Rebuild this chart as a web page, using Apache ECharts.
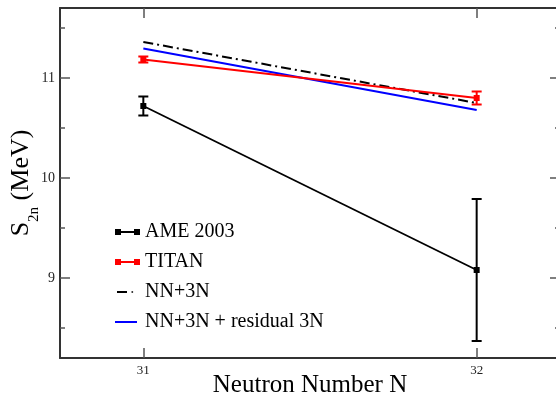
<!DOCTYPE html>
<html>
<head>
<meta charset="utf-8">
<script src="https://cdn.jsdelivr.net/npm/echarts@6/dist/echarts.min.js"></script>
<style>html,body{margin:0;padding:0;background:#fff;}#c{width:556px;height:394px;}</style>
</head>
<body>
<div id="c"></div>
<script>
// ---- data ----
var neutronN = [31, 32];
var ameY = [10.72, 9.08];
var ameErr = [0.095, 0.71];
var titanY = [11.185, 10.80];
var titanErr = [0.03, 0.065];
var nn3nY = [11.36, 10.75];
var residY = [11.295, 10.68];
var xTicks = [31, 32];
var yTicks = [9, 10, 11];
var yMinorTicks = [8.5, 9.5, 10.5, 11.5];

var FONT = '"Liberation Serif", "DejaVu Serif", serif';
function pts(ys) { return neutronN.map(function (n, i) { return [n, ys[i]]; }); }
function errPts(ys, es) { return neutronN.map(function (n, i) { return [n, ys[i], es[i]]; }); }

function errRender(color) {
  return function (params, api) {
    var x = api.value(0), y = api.value(1), e = api.value(2);
    var t = api.coord([x, y + e]), b = api.coord([x, y - e]);
    var hw = 5;
    var st = { stroke: color, lineWidth: 2 };
    return {
      type: 'group',
      children: [
        { type: 'line', shape: { x1: t[0], y1: t[1], x2: b[0], y2: b[1] }, style: st },
        { type: 'line', shape: { x1: t[0] - hw, y1: t[1], x2: t[0] + hw, y2: t[1] }, style: st },
        { type: 'line', shape: { x1: b[0] - hw, y1: b[1], x2: b[0] + hw, y2: b[1] }, style: st }
      ]
    };
  };
}

var axisLineStyle = { color: '#333', width: 2 };
var tickStyle = { color: '#555', width: 1.5 };
var anchor = ' M0,0h0.01v0.01h-0.01z M24.99,5.99h0.01v0.01h-0.01z';
var iconSq = 'path://M0,0h6v2h13v-2h6v6h-6v-2h-13v2h-6z';
var iconDD = 'path://M2,2h10v2h-10z M16.5,2.3h1.6v1.4h-1.6z' + anchor;
var iconLn = 'path://M0,2h22v2h-22z' + anchor;

function yAx(pos, vals, len, showLabel, showLine, name) {
  var a = {
    type: 'value', min: 8.2, max: 11.7, position: pos,
    axisLine: { show: showLine, onZero: false, lineStyle: axisLineStyle },
    axisTick: { show: true, inside: true, length: len, customValues: vals, lineStyle: tickStyle },
    axisLabel: { show: showLabel, customValues: vals, fontFamily: FONT, fontSize: 14, color: '#222', margin: 5 },
    splitLine: { show: false }
  };
  if (name) {
    a.name = '{s|S}{sub|2n}{s| (MeV)}';
    a.nameLocation = 'middle';
    a.nameRotate = 90;
    a.nameGap = 26;
    a.nameMoveOverlap = false;
    a.nameTextStyle = {
      fontFamily: FONT, color: '#000',
      rich: {
        s: { fontFamily: FONT, fontSize: 26, color: '#000', lineHeight: 26 },
        sub: { fontFamily: FONT, fontSize: 15, color: '#000', lineHeight: 15, padding: [27, 0, 0, 0] }
      }
    };
  }
  return a;
}

var option = {
  animation: false,
  backgroundColor: '#fff',
  grid: { left: 60, top: 8, width: 500, height: 350, outerBoundsMode: 'none', containLabel: false },
  xAxis: [
    {
      type: 'value', min: 30.75, max: 32.25, position: 'bottom',
      axisLine: { onZero: false, lineStyle: axisLineStyle },
      axisTick: { inside: true, length: 10, customValues: xTicks, lineStyle: tickStyle },
      axisLabel: { customValues: xTicks, fontFamily: FONT, fontSize: 13, color: '#222', margin: 6 },
      splitLine: { show: false },
      name: 'Neutron Number N', nameLocation: 'middle', nameGap: 15, nameMoveOverlap: false,
      nameTextStyle: { fontFamily: FONT, fontSize: 25, color: '#000' }
    },
    {
      type: 'value', min: 30.75, max: 32.25, position: 'top',
      axisLine: { onZero: false, lineStyle: axisLineStyle },
      axisTick: { inside: true, length: 10, customValues: xTicks, lineStyle: tickStyle },
      axisLabel: { show: false },
      splitLine: { show: false }
    }
  ],
  yAxis: [
    yAx('left', yTicks, 10, true, true, true),
    yAx('left', yMinorTicks, 5, false, false, false),
    yAx('right', yTicks, 10, false, true, false),
    yAx('right', yMinorTicks, 5, false, false, false)
  ],
  legend: {
    left: 115, top: 222, orient: 'vertical', padding: 0, itemGap: 10,
    itemWidth: 25, itemHeight: 6, symbolKeepAspect: true,
    itemStyle: { borderWidth: 0 },
    textStyle: { fontFamily: FONT, fontSize: 20, color: '#000', lineHeight: 20 },
    data: [
      { name: 'AME 2003', icon: iconSq },
      { name: 'TITAN', icon: iconSq },
      { name: 'NN+3N', icon: iconDD },
      { name: 'NN+3N + residual 3N', icon: iconLn }
    ]
  },
  series: [
    {
      name: 'NN+3N', type: 'line', data: pts(nn3nY), symbol: 'none',
      lineStyle: { color: '#000', width: 2, type: [10, 4, 2, 4] }, itemStyle: { color: '#000' }
    },
    {
      name: 'NN+3N + residual 3N', type: 'line', data: pts(residY), symbol: 'none',
      lineStyle: { color: '#0000ff', width: 2 }, itemStyle: { color: '#0000ff' }
    },
    {
      name: 'TITAN', type: 'line', data: pts(titanY), symbol: 'rect', symbolSize: 6,
      lineStyle: { color: '#ff0000', width: 2 }, itemStyle: { color: '#ff0000', borderWidth: 0 }
    },
    {
      name: 'AME 2003', type: 'line', data: pts(ameY), symbol: 'rect', symbolSize: 6,
      lineStyle: { color: '#000', width: 1.8 }, itemStyle: { color: '#000', borderWidth: 0 }
    },
    {
      name: 'titanErr', type: 'custom', data: errPts(titanY, titanErr),
      encode: { x: 0, y: 1 }, renderItem: errRender('#ff0000'), z: 3
    },
    {
      name: 'ameErr', type: 'custom', data: errPts(ameY, ameErr),
      encode: { x: 0, y: 1 }, renderItem: errRender('#000'), z: 3
    }
  ]
};
var chart = echarts.init(document.getElementById('c'), null, { renderer: 'canvas' });
chart.setOption(option);
</script>
</body>
</html>
